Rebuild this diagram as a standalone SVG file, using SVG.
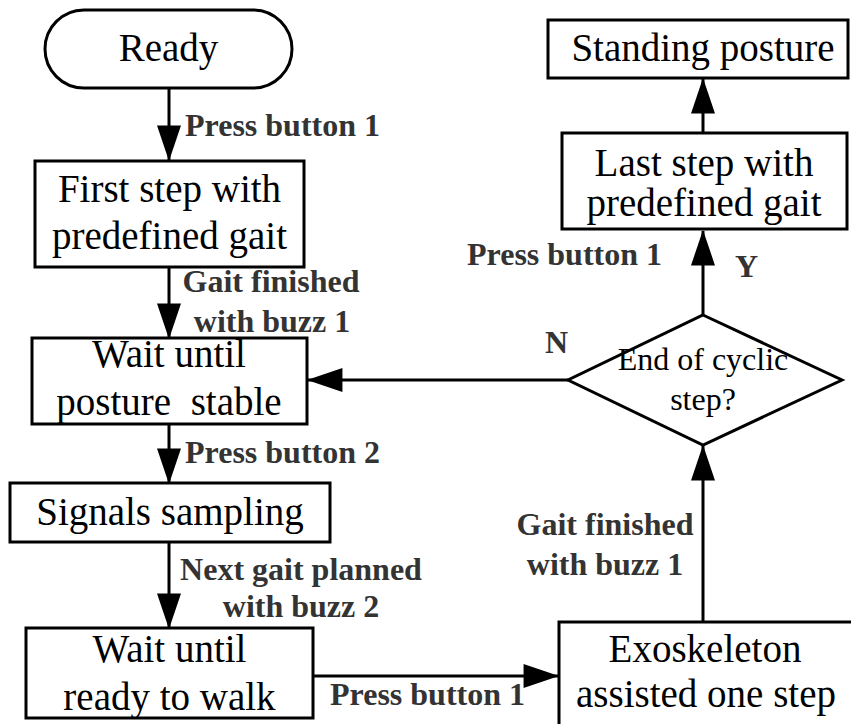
<svg xmlns="http://www.w3.org/2000/svg" width="851" height="724" viewBox="0 0 851 724">
<style>
.box{fill:#fff;stroke:#000;stroke-width:3}
.node{font-family:"Liberation Serif","Times New Roman",serif;font-size:39px;fill:#000;text-anchor:middle}
.dia{font-family:"Liberation Serif","Times New Roman",serif;font-size:32px;fill:#000;text-anchor:middle}
.lbl{font-family:"Liberation Serif","Times New Roman",serif;font-size:32px;font-weight:bold;fill:#333}
.mid{text-anchor:middle}
.edge{stroke:#000;stroke-width:3;fill:none}
</style>
<defs>
<marker id="ah" markerUnits="userSpaceOnUse" markerWidth="36" markerHeight="24" viewBox="0 0 34 23" refX="33" refY="11.5" orient="auto">
<path d="M0,0 L34,11.5 L0,23 z" fill="#000"/>
</marker>
</defs>
<rect width="851" height="724" fill="#fff"/>
<g id="connectors">
<line class="edge" x1="169" y1="88" x2="169" y2="160" marker-end="url(#ah)"/>
<line class="edge" x1="169" y1="267" x2="169" y2="338" marker-end="url(#ah)"/>
<line class="edge" x1="169" y1="424" x2="169" y2="483" marker-end="url(#ah)"/>
<line class="edge" x1="169" y1="542" x2="169" y2="628" marker-end="url(#ah)"/>
<line class="edge" x1="313" y1="676" x2="558" y2="676" marker-end="url(#ah)"/>
<line class="edge" x1="703" y1="622" x2="703" y2="446" marker-end="url(#ah)"/>
<line class="edge" x1="703" y1="315" x2="703" y2="231" marker-end="url(#ah)"/>
<line class="edge" x1="703" y1="133" x2="703" y2="79" marker-end="url(#ah)"/>
<line class="edge" x1="568" y1="380" x2="308" y2="380" marker-end="url(#ah)"/>
<text class="lbl" x="185" y="136">Press button 1</text>
<text class="lbl mid" x="271" y="292">Gait finished</text>
<text class="lbl mid" x="272" y="332">with buzz 1</text>
<text class="lbl" x="185" y="463">Press button 2</text>
<text class="lbl mid" x="301" y="580">Next gait planned</text>
<text class="lbl mid" x="301" y="617">with buzz 2</text>
<text class="lbl" x="330" y="705">Press button 1</text>
<text class="lbl mid" x="605" y="535">Gait finished</text>
<text class="lbl mid" x="605" y="575">with buzz 1</text>
<text class="lbl" x="467" y="265">Press button 1</text>
<text class="lbl" x="735" y="277">Y</text>
<text class="lbl" x="545" y="353">N</text>
</g>
<g id="ready">
<rect class="box" x="45" y="10" width="247" height="78" rx="39" ry="39"/>
<text class="node" x="168.5" y="61">Ready</text>
</g>
<g id="first-step">
<rect class="box" x="35" y="161" width="269" height="106"/>
<text class="node" x="169.5" y="202">First step with</text>
<text class="node" x="169.5" y="249">predefined gait</text>
</g>
<g id="wait-posture">
<rect class="box" x="32" y="338" width="275" height="86"/>
<text class="node" x="169" y="367">Wait until</text>
<text class="node" x="169" y="415" xml:space="preserve" style="white-space:pre">posture  stable</text>
</g>
<g id="signals">
<rect class="box" x="10" y="483" width="320" height="59"/>
<text class="node" x="170" y="525">Signals sampling</text>
</g>
<g id="wait-ready">
<rect class="box" x="26" y="628" width="287" height="90"/>
<text class="node" x="169.5" y="662">Wait until</text>
<text class="node" x="169.5" y="710">ready to walk</text>
</g>
<g id="exoskeleton">
<rect class="box" x="559" y="622" width="300" height="120"/>
<text class="node" x="705" y="662">Exoskeleton</text>
<text class="node" x="706" y="707">assisted one step</text>
</g>
<g id="decision">
<polygon class="box" points="703,315 842,380 703,445 568,380"/>
<text class="dia" x="703" y="370">End of cyclic</text>
<text class="dia" x="703" y="410">step?</text>
</g>
<g id="last-step">
<rect class="box" x="562" y="133" width="285" height="96"/>
<text class="node" x="704" y="176">Last step with</text>
<text class="node" x="704" y="216">predefined gait</text>
</g>
<g id="standing">
<rect class="box" x="548" y="20" width="300" height="58"/>
<text class="node" x="703" y="61">Standing posture</text>
</g>
</svg>
